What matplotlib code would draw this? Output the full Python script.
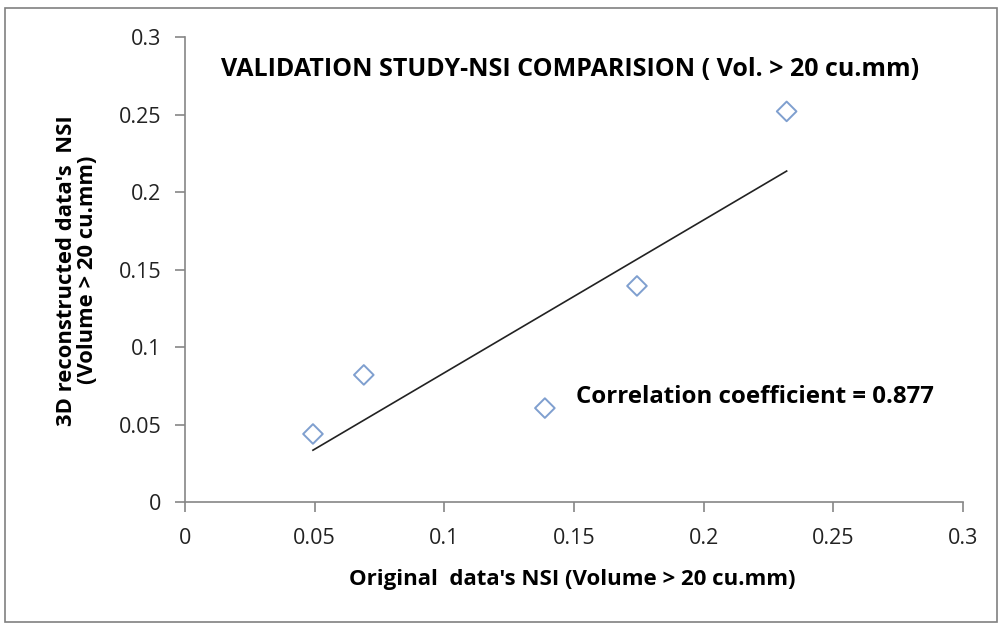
import matplotlib
matplotlib.use("Agg")
import matplotlib.pyplot as plt
import numpy as np
from matplotlib.patches import Rectangle

x_orig = [0.0494, 0.069, 0.1388, 0.1743, 0.232]
y_recon = [0.0439, 0.082, 0.0606, 0.1394, 0.252]
x_ticks = [0, 0.05, 0.1, 0.15, 0.2, 0.25, 0.3]
y_ticks = [0, 0.05, 0.1, 0.15, 0.2, 0.25, 0.3]
x_tick_labels = ["0", "0.05", "0.1", "0.15", "0.2", "0.25", "0.3"]
y_tick_labels = ["0", "0.05", "0.1", "0.15", "0.2", "0.25", "0.3"]
title = "VALIDATION STUDY-NSI COMPARISION ( Vol. > 20 cu.mm)"
corr_text = "Correlation coefficient = 0.877"

plt.rcParams['font.family'] = ['Open Sans', 'DejaVu Sans']

fig = plt.figure(figsize=(9.99, 6.24), dpi=100)
fig.patches.append(Rectangle((0.005, 0.003), 0.993, 0.984, transform=fig.transFigure,
                             fill=False, edgecolor='#808080', linewidth=1.2))
ax = fig.add_axes([0.185, 0.1955, 0.779, 0.7452])

ax.scatter(x_orig, y_recon, marker='D', s=100, facecolors='none',
           edgecolors='#7f9fcf', linewidths=1.4, zorder=3)
coef = np.polyfit(x_orig, y_recon, 1)
xs = np.array([min(x_orig), max(x_orig)])
ax.plot(xs, np.polyval(coef, xs), color='#222222', linewidth=1.2)

ax.set_xlim(0, 0.3)
ax.set_ylim(0, 0.3)
ax.set_xticks(x_ticks)
ax.set_xticklabels(x_tick_labels)
ax.set_yticks(y_ticks)
ax.set_yticklabels(y_tick_labels)
for s in ['top', 'right']:
    ax.spines[s].set_visible(False)
for s in ['left', 'bottom']:
    ax.spines[s].set_color('#868686')
    ax.spines[s].set_linewidth(1.2)
ax.tick_params(axis='both', direction='out', length=7, color='#868686',
               labelsize=15.5, labelcolor='#222222', width=1.2)
ax.tick_params(axis='x', pad=12)
ax.tick_params(axis='y', pad=10)

fig.text(0.573, 0.072, "Original  data's NSI (Volume > 20 cu.mm)", ha='center',
         va='center', fontsize=16, fontweight='bold')
fig.text(0.077, 0.567, "3D reconstructed data's  NSI\n(Volume > 20 cu.mm)",
         rotation=90, ha='center', va='center', fontsize=15.8,
         fontweight='bold', linespacing=1.05)

fig.text(0.571, 0.888, title, ha='center', va='center',
         fontsize=18, fontweight='bold')
fig.text(0.577, 0.363, corr_text, ha='left', va='center',
         fontsize=17.3, fontweight='bold')

fig.savefig("out.png", dpi=100)
